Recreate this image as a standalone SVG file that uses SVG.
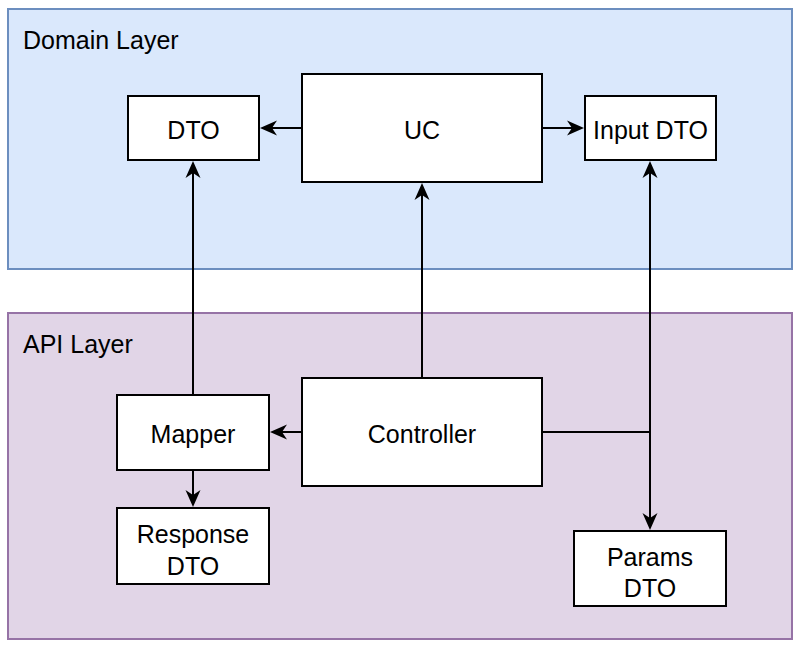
<svg xmlns="http://www.w3.org/2000/svg" width="805" height="652" viewBox="0 0 805 652">
<style>
text{font-family:"Liberation Sans",Arial,sans-serif;font-size:25px;fill:#000}
.node rect{fill:#fff;stroke:#000;stroke-width:2}
.c{text-anchor:middle}
.edge{fill:none;stroke:#000;stroke-width:2}
.head{fill:#000;stroke:none}
</style>
<defs>
<path id="ah" d="M0,0 L-17,-7.5 L-12,0 L-17,7.5 z"/>
</defs>
<rect x="0" y="0" width="805" height="652" fill="#fff"/>
<g id="domain-layer">
<rect x="8" y="9" width="784" height="260" fill="#dae8fc" stroke="#6c8ebf" stroke-width="2"/>
<text x="23" y="49">Domain Layer</text>
</g>
<g id="api-layer">
<rect x="8" y="313" width="784" height="326" fill="#e1d5e7" stroke="#9673a6" stroke-width="2"/>
<text x="23" y="353">API Layer</text>
</g>
<g id="connectors">
<path class="edge" d="M302,128 H268"/>
<use href="#ah" class="head" transform="translate(260,128) rotate(180)"/>
<path class="edge" d="M542,128 H576"/>
<use href="#ah" class="head" transform="translate(584,128)"/>
<path class="edge" d="M193,395 V169"/>
<use href="#ah" class="head" transform="translate(193,161) rotate(-90)"/>
<path class="edge" d="M422,378 V191"/>
<use href="#ah" class="head" transform="translate(422,183) rotate(-90)"/>
<path class="edge" d="M542,432 H650 V169"/>
<use href="#ah" class="head" transform="translate(650,161) rotate(-90)"/>
<path class="edge" d="M650,432 V522"/>
<use href="#ah" class="head" transform="translate(650,530) rotate(90)"/>
<path class="edge" d="M302,432 H278"/>
<use href="#ah" class="head" transform="translate(270,432) rotate(180)"/>
<path class="edge" d="M193,470 V499"/>
<use href="#ah" class="head" transform="translate(193,507) rotate(90)"/>
</g>
<g id="dto" class="node"><rect x="128" y="96" width="131" height="64"/><text class="c" x="193.5" y="139">DTO</text></g>
<g id="uc" class="node"><rect x="302" y="74" width="240" height="108"/><text class="c" x="422" y="139">UC</text></g>
<g id="input-dto" class="node"><rect x="585" y="96" width="131" height="64"/><text class="c" x="650.5" y="139">Input DTO</text></g>
<g id="mapper" class="node"><rect x="117" y="395" width="152" height="75"/><text class="c" x="193" y="443">Mapper</text></g>
<g id="controller" class="node"><rect x="302" y="378" width="240" height="108"/><text class="c" x="422" y="443">Controller</text></g>
<g id="response-dto" class="node"><rect x="117" y="508" width="152" height="76"/><text class="c" x="193" y="543">Response</text><text class="c" x="193" y="575">DTO</text></g>
<g id="params-dto" class="node"><rect x="574" y="531" width="152" height="75"/><text class="c" x="650" y="566">Params</text><text class="c" x="650" y="597">DTO</text></g>
</svg>
